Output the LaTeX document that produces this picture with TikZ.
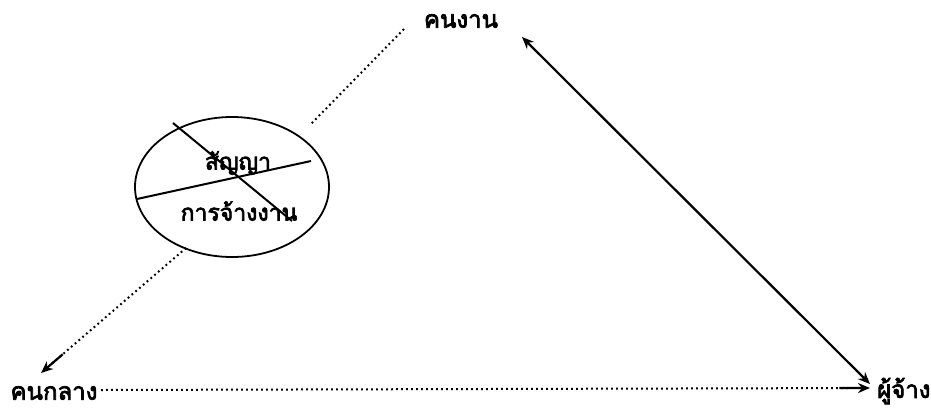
\documentclass[tikz,border=0pt]{standalone}
\usepackage{fontspec}
\newfontfamily\thaifont[Script=Thai,AutoFakeBold=3]{Loma}
\usetikzlibrary{arrows.meta,shapes.geometric,calc}
\begin{document}
\begin{tikzpicture}[x=1pt,y=-1pt,
  lbl/.style={font=\thaifont\bfseries\fontsize{24}{28}\selectfont, inner sep=0pt},
  intext/.style={font=\thaifont\bfseries\fontsize{23}{27}\selectfont, inner sep=0pt},
  dots/.style={line width=2pt, dash pattern=on 1.8pt off 3.2pt},
  tip/.style={-{Stealth[length=12pt,width=10pt]}},
  solid line/.style={line width=2.2pt}]
\useasboundingbox (0,0) rectangle (931,410);
\node[lbl] (worker) at (461,21) {คนงาน};
\node[lbl] (middle) at (54,393) {คนกลาง};
\node[lbl, anchor=west] (employer) at (877,391) {ผู้จ้าง};
\node[draw, line width=1.8pt, ellipse, minimum width=194pt, minimum height=140pt, inner sep=0pt] (contract) at (232,187) {};
\node[intext] (t1) at (238,163) {สัญญา};
\node[intext] (t2) at (239,211) {การจ้างงาน};
\coordinate (a1) at (404,29);
\coordinate (a2) at (311,124);
\coordinate (b1) at (186,248);
\coordinate (b2) at (41,373);
\coordinate (c1) at (101,390);
\coordinate (c2) at (870,388);
\coordinate (d1) at (522,37);
\coordinate (d2) at (870,384);
\coordinate (x1) at (173,123);
\coordinate (x2) at (292,221);
\coordinate (y1) at (137,199);
\coordinate (y2) at (311,161);
\draw[dots] (a1) -- (a2);
\draw[dots] (b1) -- ($(b1)!0.93!(b2)$);
\draw[solid line, tip] ($(b1)!0.85!(b2)$) -- (b2);
\draw[dots] (c1) -- ($(c1)!0.975!(c2)$);
\draw[solid line, tip] ($(c1)!0.96!(c2)$) -- (c2);
\draw[solid line, {Stealth[length=12pt,width=10pt]}-{Stealth[length=12pt,width=10pt]}] (d1) -- (d2);
\draw[line width=2pt] (x1) -- (x2);
\draw[line width=2pt] (y1) -- (y2);
\end{tikzpicture}
\end{document}
